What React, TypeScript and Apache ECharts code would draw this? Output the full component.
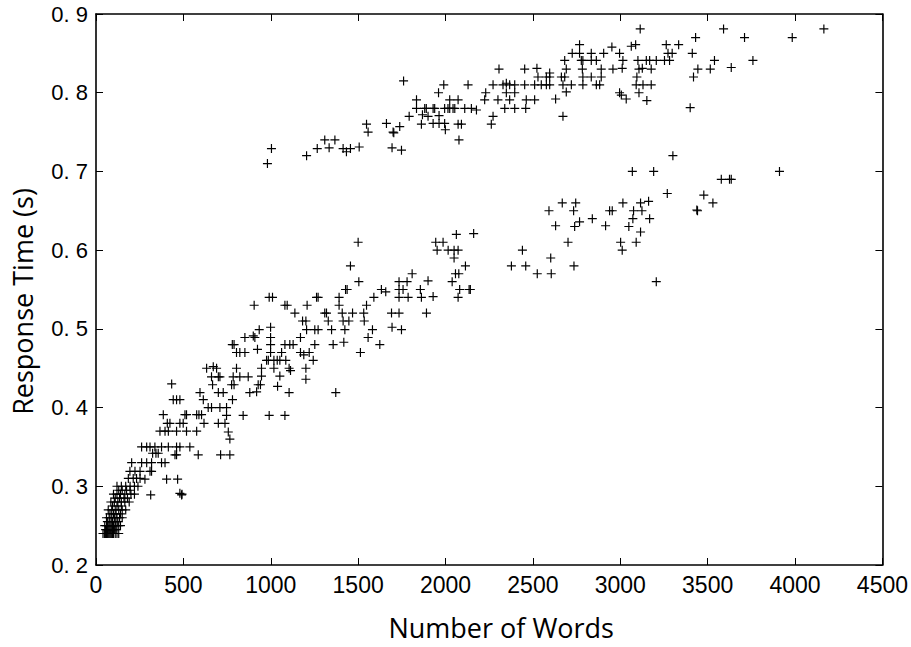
import React, { useEffect, useRef } from "react";
import * as echarts from "echarts";

// Dense cluster of short texts (x = number of words, y = response time in s)
const denseCluster: [number, number][] = [
  [40,0.24],[48,0.24],[55,0.24],[60,0.24],[65,0.24],[70,0.24],[75,0.24],[80,0.24],[85,0.24],[90,0.24],[95,0.24],[100,0.24],[110,0.24],[120,0.24],[130,0.24],
  [55,0.245],[65,0.245],[75,0.245],[85,0.245],[95,0.245],[105,0.245],[115,0.245],
  [50,0.25],[60,0.25],[70,0.25],[80,0.25],[90,0.25],[100,0.25],[110,0.25],[120,0.25],[130,0.25],[140,0.25],
  [65,0.255],[80,0.255],[95,0.255],[110,0.255],[125,0.255],
  [60,0.26],[75,0.26],[90,0.26],[105,0.26],[120,0.26],[135,0.26],[150,0.26],
  [80,0.265],[100,0.265],[115,0.265],[140,0.265],
  [70,0.27],[90,0.27],[110,0.27],[130,0.27],[150,0.27],[170,0.27],
  [95,0.275],[120,0.275],[145,0.275],
  [85,0.28],[105,0.28],[125,0.28],[145,0.28],[165,0.28],[190,0.28],
  [110,0.285],[135,0.285],[160,0.285],[180,0.285],
  [100,0.29],[120,0.29],[140,0.29],[165,0.29],[200,0.29],[220,0.29],
  [130,0.295],[150,0.295],[175,0.295],[195,0.295],
  [120,0.3],[145,0.3],[170,0.3],[195,0.3],[220,0.3],[240,0.3],
  [313,0.289],[480,0.291],[490,0.289],[492,0.29]
];

// Lower branch, short documents
const lowerShort: [number, number][] = [
  [185,0.31],[213,0.31],[232,0.31],[252,0.31],[280,0.309],[404,0.309],[467,0.309],
  [194,0.319],[223,0.319],[252,0.319],[309,0.319],[318,0.319],
  [204,0.33],[261,0.33],[290,0.33],[318,0.33],[375,0.33],[395,0.33],
  [324,0.342],[343,0.342],[356,0.342],[452,0.34],[461,0.34],[585,0.34],
  [261,0.35],[290,0.35],[309,0.35],[337,0.35],[375,0.35],[414,0.35],[461,0.35],[480,0.35],[537,0.35],
  [366,0.37],[395,0.37],[414,0.37],[461,0.37],[518,0.37],[576,0.37],
  [408,0.38],[423,0.38],[480,0.38],[499,0.38],
  [385,0.391],[509,0.391],[518,0.391],[576,0.391],[589,0.391],
  [442,0.41],[461,0.41],[480,0.41],
  [433,0.43]
];

// Lower branch, medium documents
const lowerMid: [number, number][] = [
  [633,0.45],[671,0.452],[690,0.45],[661,0.439],[700,0.439],[709,0.439],[667,0.429],[595,0.419],[700,0.419],[728,0.419],
  [614,0.41],[642,0.4],[661,0.4],[709,0.4],[747,0.4],[604,0.391],[618,0.38],[700,0.38],[738,0.38],[747,0.39],
  [842,0.39],[991,0.39],[1081,0.39],[757,0.369],[766,0.36],[713,0.34],[766,0.34],
  [780,0.48],[790,0.48],[804,0.47],[823,0.47],[852,0.47],[804,0.45],[785,0.439],[823,0.439],[871,0.439],[776,0.429],[790,0.429],[781,0.41],
  [852,0.489],[900,0.491],[909,0.489],[924,0.474],[934,0.499],[905,0.53],[991,0.54],[1010,0.54],[999,0.502],[999,0.489],
  [947,0.45],[947,0.44],[928,0.429],[941,0.429],[880,0.419],[919,0.42],
  [999,0.48],[999,0.47],[1062,0.47],[1081,0.48],[1109,0.48],[1128,0.48],[1170,0.489],
  [976,0.46],[986,0.46],[1018,0.46],[1037,0.46],[1052,0.46],[1086,0.46],
  [1170,0.47],[1189,0.467],[1220,0.47],[1243,0.46],[1252,0.48],[1357,0.48],[1418,0.483],
  [1018,0.45],[1105,0.45],[1113,0.447],[1201,0.45],[1201,0.436],[1052,0.44],[1039,0.427],[1105,0.419],[1372,0.419],
  [1081,0.53],[1094,0.53],[1138,0.52],[1182,0.51],[1201,0.51],[1208,0.53],[1262,0.54],[1271,0.54],
  [1205,0.499],[1252,0.499],[1271,0.499],[1348,0.499],[1309,0.52],[1319,0.52],[1329,0.51],
  [1391,0.54],[1391,0.53],[1409,0.52],[1468,0.52],[1414,0.51],[1447,0.51],[1424,0.499],[1428,0.55],[1437,0.55],
  [1456,0.58],[1504,0.56],[1548,0.53],[1590,0.54],[1532,0.52],[1535,0.51],[1582,0.499],[1557,0.489],[1624,0.48],[1513,0.47],
  [1633,0.55],[1658,0.547],[1734,0.56],[1780,0.56],[1734,0.55],[1757,0.55],[1734,0.54],[1786,0.54],[1856,0.55],[1862,0.54],[1929,0.541],
  [1691,0.52],[1734,0.52],[1891,0.52],[1694,0.502],[1748,0.499],[1809,0.57],[1900,0.561],[1952,0.6],[2015,0.6],
  [1500,0.61]
];

// Lower branch, long documents
const lowerLong: [number, number][] = [
  [1944,0.61],[1986,0.61],[2049,0.6],[2072,0.6],[2062,0.62],[2161,0.621],[2049,0.59],[2114,0.58],[2057,0.57],[2076,0.57],
  [2038,0.56],[2081,0.55],[2135,0.55],[2142,0.55],[2072,0.54],
  [2377,0.58],[2459,0.58],[2525,0.57],[2605,0.57],[2735,0.58],[2440,0.6],[2602,0.59],[2701,0.61],[2630,0.631],[2739,0.63],
  [2767,0.636],[2840,0.64],[2592,0.65],[2733,0.65],[2668,0.66],[2745,0.66],
  [3015,0.66],[3116,0.66],[3162,0.662],[2939,0.65],[2954,0.65],[3076,0.65],[3124,0.65],[3072,0.64],[3168,0.64],
  [2916,0.631],[3049,0.63],[3116,0.623],[3002,0.61],[3091,0.61],[3011,0.6],[3206,0.56],
  [3069,0.7],[3191,0.7],[3301,0.72],[3269,0.672],[3478,0.67],[3530,0.66],[3438,0.651],[3442,0.65],
  [3578,0.69],[3625,0.69],[3635,0.69],[3911,0.7]
];

// Upper branch
const upperBranch: [number, number][] = [
  [981,0.71],[1004,0.729],[1205,0.72],[1266,0.729],[1309,0.74],[1334,0.73],[1367,0.74],[1414,0.729],[1433,0.725],[1456,0.729],
  [1506,0.731],[1548,0.76],[1557,0.75],[1662,0.761],[1700,0.75],[1704,0.749],[1738,0.757],[1694,0.73],[1748,0.727],[1792,0.77],
  [1760,0.815],
  [1834,0.791],[1834,0.78],[1862,0.76],[1868,0.772],[1900,0.77],[1881,0.78],[1890,0.78],[1929,0.78],[1938,0.78],[1929,0.761],
  [1963,0.771],[1963,0.761],[1995,0.761],[1999,0.753],[1995,0.78],[2014,0.78],[1960,0.8],[1990,0.81],
  [3114,0.881],[3591,0.881],[4165,0.881],
  [3431,0.87],[3711,0.87],[3984,0.87],
  [2767,0.861],[2952,0.858],[3063,0.859],[3088,0.861],[3263,0.861],[3334,0.861],
  [2725,0.85],[2767,0.85],[2834,0.85],[2905,0.85],[2996,0.85],[3273,0.85],[3297,0.85],[3412,0.85],
  [2682,0.841],[2777,0.841],[2786,0.841],[2834,0.841],[2863,0.841],[3015,0.841],[3101,0.841],[3149,0.841],[3168,0.841],
  [3206,0.841],[3253,0.841],[3282,0.841],[3539,0.841],[3759,0.841],
  [2306,0.83],[2453,0.83],[2523,0.831],[2691,0.83],[2783,0.83],[2891,0.83],[2958,0.83],[3011,0.831],[3107,0.83],
  [3126,0.831],[3177,0.83],[3444,0.83],[3515,0.83],[3635,0.832],
  [2529,0.82],[2577,0.82],[2596,0.825],[2596,0.82],[2663,0.82],[2682,0.82],[2786,0.82],[2834,0.82],[2891,0.82],[3095,0.82],[3419,0.82],
  [2129,0.81],[2272,0.81],[2329,0.81],[2348,0.812],[2367,0.81],[2396,0.81],[2453,0.81],[2510,0.81],[2548,0.81],[2577,0.81],
  [2596,0.81],[2672,0.81],[2720,0.81],[2786,0.81],[2863,0.81],[2882,0.81],[3091,0.81],[3130,0.81],[3177,0.81],
  [2230,0.8],[2348,0.8],[2396,0.8],[2691,0.801],[2996,0.8],[3006,0.797],[3107,0.8],
  [2024,0.791],[2072,0.791],[2224,0.791],[2300,0.791],[2367,0.791],[2462,0.791],[2510,0.791],[2630,0.792],[3034,0.792],[3152,0.79],
  [2024,0.78],[2043,0.78],[2053,0.78],[2110,0.78],[2148,0.78],[2177,0.778],[2339,0.78],[2396,0.78],[2459,0.78],[3400,0.781],
  [2272,0.77],[2672,0.77],[2072,0.76],[2091,0.76],[2262,0.76],[2077,0.74]
];

const xMin = 0, xMax = 4500, xStep = 500;
const yMin = 0.2, yMax = 0.9, yStep = 0.1;

const PLUS = "path://M4.35,0h1.3v4.35h4.35v1.3h-4.35v4.35h-1.3v-4.35h-4.35v-1.3h4.35z";

export default function App() {
  const ref = useRef<HTMLDivElement>(null);
  useEffect(() => {
    const chart = echarts.init(ref.current!, null, { renderer: "svg" });
    const axisLine = { show: true, onZero: false, lineStyle: { color: "#000", width: 1.6 } };
    const tick = { show: true, inside: true, length: 7, lineStyle: { color: "#000", width: 1 } };
    const allData = [...denseCluster, ...lowerShort, ...lowerMid, ...lowerLong, ...upperBranch];
    const titleFont = "'Open Sans', 'Noto Sans', sans-serif";
    chart.setOption({
      animation: false,
      backgroundColor: "#fff",
      grid: { left: 96, right: 28, top: 14, bottom: 82, containLabel: false },
      xAxis: [
        {
          type: "value", min: xMin, max: xMax, interval: xStep, position: "bottom",
          axisLine, axisTick: tick, splitLine: { show: false },
          axisLabel: {
            color: "#000", fontSize: 23, margin: 8,
            fontFamily: "'Liberation Sans Narrow', 'Liberation Sans', Arial, sans-serif",
            formatter: (v: number) => String(v),
          },
          name: "Number of Words", nameLocation: "middle", nameGap: 49,
          nameTextStyle: { color: "#000", fontSize: 27, fontFamily: titleFont, padding: [0, 0, 0, 24] },
        },
        {
          type: "value", min: xMin, max: xMax, interval: xStep, position: "top",
          axisLine, axisTick: tick, splitLine: { show: false }, axisLabel: { show: false },
        },
      ],
      yAxis: [
        {
          type: "value", min: yMin, max: yMax, interval: yStep, position: "left",
          axisLine, axisTick: tick, splitLine: { show: false },
          axisLabel: {
            color: "#000", fontSize: 22, margin: 8,
            fontFamily: "'Liberation Sans', Arial, sans-serif",
            formatter: (v: number) => v.toFixed(1).replace(".", ". "),
          },
          name: "Response Time (s)", nameLocation: "middle", nameGap: 60,
          nameTextStyle: { color: "#000", fontSize: 27, fontFamily: titleFont, padding: [0, 24, 0, 0] },
        },
        {
          type: "value", min: yMin, max: yMax, interval: yStep, position: "right",
          axisLine, axisTick: tick, splitLine: { show: false }, axisLabel: { show: false },
        },
      ],
      series: [
        {
          type: "scatter",
          xAxisIndex: 0, yAxisIndex: 0,
          symbol: PLUS, symbolSize: 9,
          itemStyle: { color: "#000", opacity: 1 },
          data: allData,
        },
      ],
    });
    return () => chart.dispose();
  }, []);
  return <div ref={ref} style={{ position: "fixed", left: 0, top: 0, width: 911, height: 647 }} />;
}
